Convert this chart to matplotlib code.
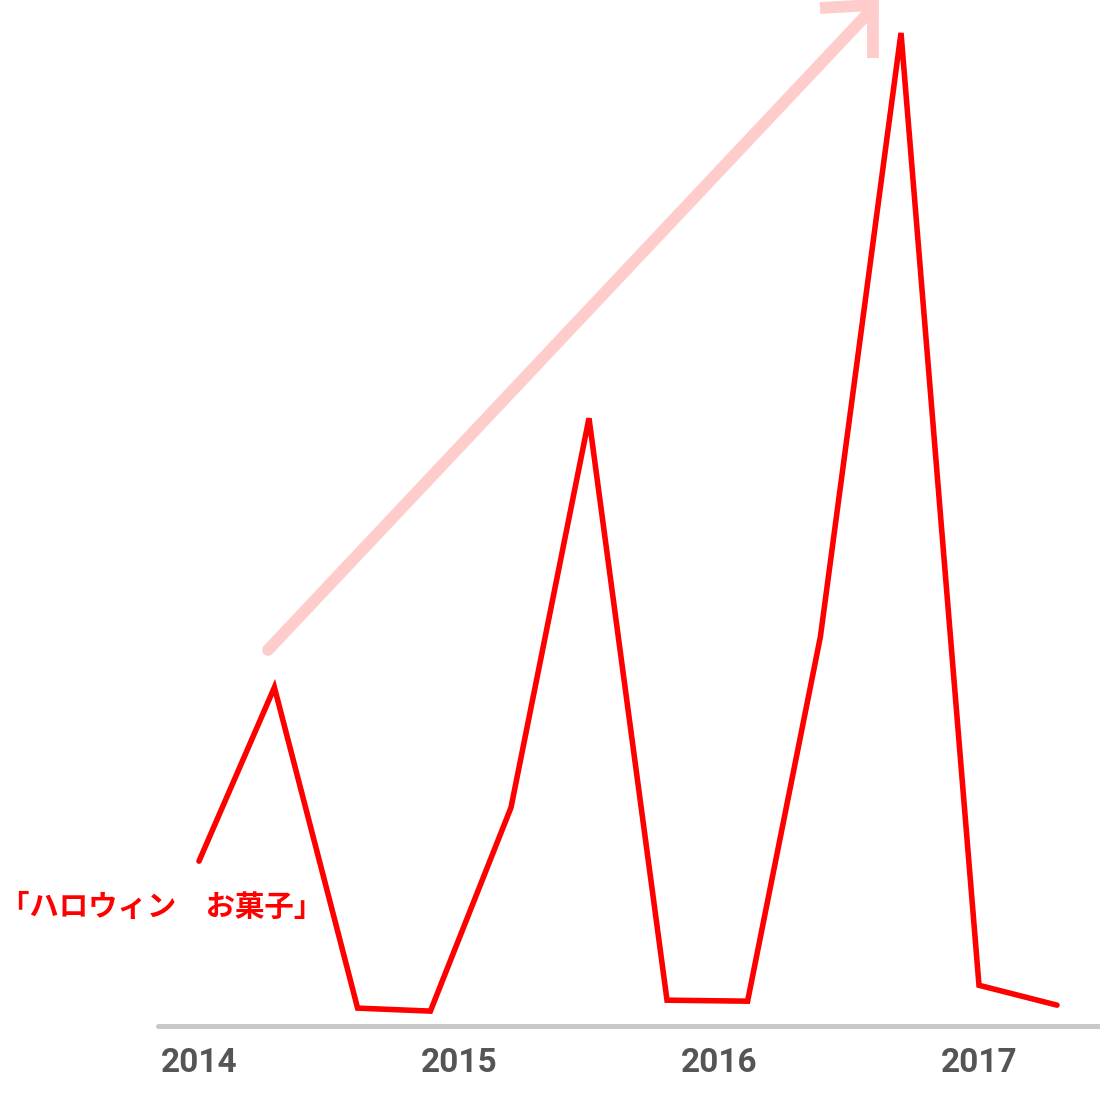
import matplotlib
matplotlib.use('Agg')
from matplotlib import pyplot as plt

# search interest for "ハロウィン お菓子" (relative index, peak = 100)
dates = [2014.00, 2014.29, 2014.61, 2014.89, 2015.20, 2015.50,
         2015.80, 2016.11, 2016.39, 2016.70, 2017.00, 2017.30]
interest = [16.6, 34.1, 1.8, 1.5, 22.0, 61.2, 2.6, 2.5, 39.2, 100.0, 4.1, 2.1]
years = [2014, 2015, 2016, 2017]
series_label = '「ハロウィン\u3000お菓子」'


def init_plot():
    fig = plt.figure(figsize=(11, 11.03), dpi=100)
    ax = fig.add_axes([0, 0, 1, 1])
    ax.set_xlim(2013.2346, 2017.4654)
    ax.set_ylim(-7.754, 103.32)
    ax.axis('off')
    return fig, ax


def draw_axis(ax):
    ax.plot([2013.843, 2017.4654], [0, 0], color='#c8c8c8', lw=3.6,
            solid_capstyle='round', zorder=1)
    for year in years:
        ax.text(year, -3.7, str(year), ha='center', va='center',
                fontsize=24, fontweight='bold', color='#555555',
                family='Roboto')


def draw_trend_arrow(fig):
    # arrow drawn in pixel-like figure coords
    ax_arrow = fig.add_axes([0, 0, 1, 1], facecolor='none')
    ax_arrow.set_xlim(0, 1100)
    ax_arrow.set_ylim(1103, 0)
    ax_arrow.axis('off')
    ax_arrow.plot([268, 873], [650, 8], color='#ffcccc', lw=8.5,
                  solid_capstyle='round', zorder=0)
    ax_arrow.plot([820, 873, 873], [8, 5, 58], color='#ffcccc', lw=8.5,
                  solid_joinstyle='miter', solid_capstyle='butt', zorder=0)
    return ax_arrow


def plot_interest(ax):
    ax.plot(dates, interest, color='#ff0000', lw=4,
            solid_joinstyle='miter', solid_capstyle='round', zorder=3)
    ax.text(2013.2352, 12.0, series_label, ha='left', va='center',
            fontsize=21.2, fontweight='bold', color='#ff0000',
            family=['Noto Sans CJK JP', 'DejaVu Sans'])


if __name__ == '__main__':
    fig, ax = init_plot()
    draw_trend_arrow(fig)
    ax.set_zorder(2)
    ax.patch.set_alpha(0)
    draw_axis(ax)
    plot_interest(ax)
    fig.savefig('out.png', dpi=100)
